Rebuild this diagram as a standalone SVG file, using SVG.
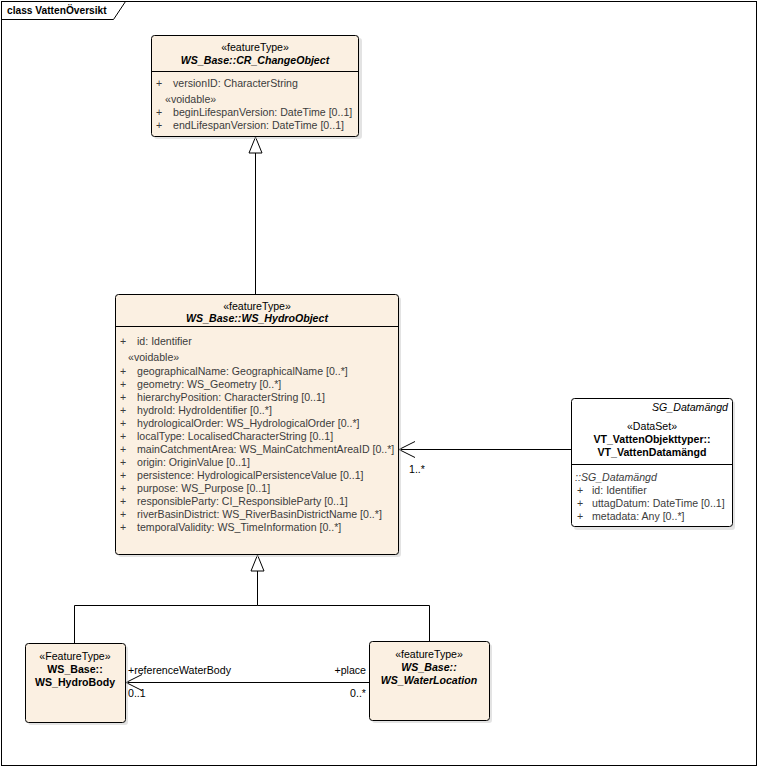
<svg xmlns="http://www.w3.org/2000/svg" width="758" height="767" viewBox="0 0 758 767">
<defs>
<style>
text{font-family:"Liberation Sans",Arial,sans-serif;font-size:10.6px;fill:#000}
.a{fill:#3c3c3c}
.c{text-anchor:middle}
.r{text-anchor:end}
.b{font-weight:bold}
.i{font-style:italic}
.box{fill:#fbf0e2;stroke:#000;stroke-width:1}
.sh{fill:#c8c8c8;opacity:0.5}
.ln{stroke:#000;stroke-width:1;fill:none}
</style>
</defs>
<rect x="0" y="0" width="758" height="767" fill="#fff"/>
<g id="frame">
<rect x="1.5" y="1.5" width="755" height="764" fill="none" stroke="#000"/>
<path d="M1.5 19.5 H113.5 L125.5 1.5" fill="none" stroke="#000"/>
<text x="7" y="14" style="font-size:10.2px;font-weight:bold">class VattenÖversikt</text>
</g>
<g id="connectors">
<line class="ln" x1="255.5" y1="153" x2="255.5" y2="294"/>
<polygon points="255.5,137 249,153 262,153" fill="#fff" stroke="#000"/>
<polyline class="ln" points="257.5,571 257.5,605.5 74.5,605.5 74.5,643"/>
<polyline class="ln" points="257.5,605.5 429.5,605.5 429.5,641"/>
<polygon points="257.5,555 251,571 264,571" fill="#fff" stroke="#000"/>
<line class="ln" x1="571" y1="449.5" x2="399" y2="449.5"/>
<polyline class="ln" points="415,441.5 399,449.5 415,457.5"/>
<text x="409" y="473">1..*</text>
<line class="ln" x1="369" y1="682.5" x2="126" y2="682.5"/>
<polyline class="ln" points="142,674.5 126,682.5 142,690.5"/>
<text x="128" y="674">+referenceWaterBody</text>
<text x="128" y="697">0..1</text>
<text x="366" y="674" class="r">+place</text>
<text x="366" y="697" class="r">0..*</text>
</g>
<g id="CR_ChangeObject">
<rect class="sh" x="154" y="38" width="208" height="101" rx="3"/>
<rect class="box" x="151.5" y="35.5" width="207" height="101" rx="3"/>
<line class="ln" x1="151.5" y1="71.5" x2="358.5" y2="71.5"/>
<text x="255" y="51" class="c">«featureType»</text>
<text x="255" y="64" class="c b i">WS_Base::CR_ChangeObject</text>
<text x="156" y="87" class="a">+</text><text x="173" y="87" class="a">versionID: CharacterString</text>
<text x="165" y="103" class="a">«voidable»</text>
<text x="156" y="116" class="a">+</text><text x="173" y="116" class="a">beginLifespanVersion: DateTime [0..1]</text>
<text x="156" y="129" class="a">+</text><text x="173" y="129" class="a">endLifespanVersion: DateTime [0..1]</text>
</g>
<g id="WS_HydroObject">
<rect class="sh" x="118" y="297" width="283" height="260" rx="3"/>
<rect class="box" x="115.5" y="294.5" width="283" height="260" rx="3"/>
<line class="ln" x1="115.5" y1="326.5" x2="398.5" y2="326.5"/>
<text x="257" y="310" class="c">«featureType»</text>
<text x="257" y="322" class="c b i">WS_Base::WS_HydroObject</text>
<text x="120" y="345" class="a">+</text><text x="137" y="345" class="a">id: Identifier</text>
<text x="128" y="361" class="a">«voidable»</text>
<text x="120" y="375" class="a">+</text><text x="137" y="375" class="a">geographicalName: GeographicalName [0..*]</text>
<text x="120" y="388" class="a">+</text><text x="137" y="388" class="a">geometry: WS_Geometry [0..*]</text>
<text x="120" y="401" class="a">+</text><text x="137" y="401" class="a">hierarchyPosition: CharacterString [0..1]</text>
<text x="120" y="414" class="a">+</text><text x="137" y="414" class="a">hydroId: HydroIdentifier [0..*]</text>
<text x="120" y="427" class="a">+</text><text x="137" y="427" class="a">hydrologicalOrder: WS_HydrologicalOrder [0..*]</text>
<text x="120" y="440" class="a">+</text><text x="137" y="440" class="a">localType: LocalisedCharacterString [0..1]</text>
<text x="120" y="453" class="a">+</text><text x="137" y="453" class="a">mainCatchmentArea: WS_MainCatchmentAreaID [0..*]</text>
<text x="120" y="466" class="a">+</text><text x="137" y="466" class="a">origin: OriginValue [0..1]</text>
<text x="120" y="479" class="a">+</text><text x="137" y="479" class="a">persistence: HydrologicalPersistenceValue [0..1]</text>
<text x="120" y="492" class="a">+</text><text x="137" y="492" class="a">purpose: WS_Purpose [0..1]</text>
<text x="120" y="505" class="a">+</text><text x="137" y="505" class="a">responsibleParty: CI_ResponsibleParty [0..1]</text>
<text x="120" y="518" class="a">+</text><text x="137" y="518" class="a">riverBasinDistrict: WS_RiverBasinDistrictName [0..*]</text>
<text x="120" y="531" class="a">+</text><text x="137" y="531" class="a">temporalValidity: WS_TimeInformation [0..*]</text>
</g>
<g id="VT_VattenDatamangd">
<rect class="sh" x="574" y="401" width="161" height="129" rx="3"/>
<rect class="box" x="571.5" y="398.5" width="161" height="128" rx="3" style="fill:#fff"/>
<line class="ln" x1="571.5" y1="464.5" x2="732.5" y2="464.5"/>
<text x="728" y="411" class="r i">SG_Datamängd</text>
<text x="652" y="430" class="c">«DataSet»</text>
<text x="652" y="443" class="c b">VT_VattenObjekttyper::</text>
<text x="652" y="456" class="c b">VT_VattenDatamängd</text>
<text x="575" y="481" class="a i">::SG_Datamängd</text>
<text x="577" y="494" class="a">+</text><text x="592" y="494" class="a">id: Identifier</text>
<text x="577" y="507" class="a">+</text><text x="592" y="507" class="a">uttagDatum: DateTime [0..1]</text>
<text x="577" y="520" class="a">+</text><text x="592" y="520" class="a">metadata: Any [0..*]</text>
</g>
<g id="WS_HydroBody">
<rect class="sh" x="28" y="646" width="100" height="79" rx="3"/>
<rect class="box" x="25.5" y="643.5" width="100" height="79" rx="3"/>
<text x="75" y="660" class="c">«FeatureType»</text>
<text x="75" y="673" class="c b">WS_Base::</text>
<text x="75" y="686" class="c b">WS_HydroBody</text>
</g>
<g id="WS_WaterLocation">
<rect class="sh" x="372" y="644" width="120" height="79" rx="3"/>
<rect class="box" x="369.5" y="641.5" width="120" height="79" rx="3"/>
<text x="429" y="658" class="c">«featureType»</text>
<text x="429" y="671" class="c b i">WS_Base::</text>
<text x="429" y="684" class="c b i">WS_WaterLocation</text>
</g>
</svg>
